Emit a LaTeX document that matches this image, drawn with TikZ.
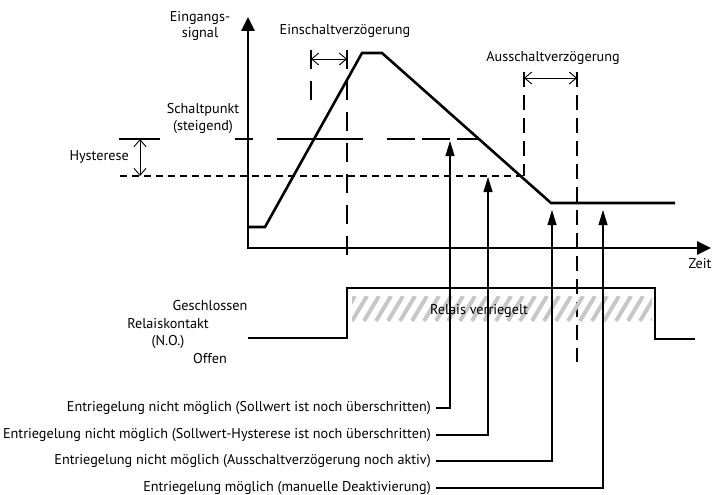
\documentclass[tikz,border=0pt]{standalone}
\usepackage{fontspec}
\setmainfont{PT Sans}
\usetikzlibrary{arrows.meta}

\begin{document}
\begin{tikzpicture}
			[x=1pt,y=-1pt,line cap=butt,
			%Styles
			axes/.style={line width=2.6pt,{Triangle[length=14pt,width=13pt]}-{Triangle[length=14pt,width=13pt]}},
			signal line/.style={line width=2.6pt,line join=miter},
			level line/.style={line width=2.6pt},
			hyst line/.style={line width=2.6pt,dash pattern=on 7pt off 5pt},
			delay line/.style={line width=2.6pt,dash pattern=on 19pt off 12pt},
			off line/.style={line width=2.6pt,dash pattern=on 15pt off 8pt},
			span arrow/.style={line width=0.9pt,{Straight Barb[length=7pt,width=12pt]}-{Straight Barb[length=7pt,width=12pt]}},
			pointer/.style={line width=1.1pt,-{Triangle[length=15pt,width=9pt]},shorten <=5pt},
			hatch/.style={line width=4pt,color=hatchgray},
			label text/.style={font=\fontsize{14.2}{16}\selectfont,inner sep=0pt},
			note text/.style={label text,anchor=east}
			]
			
			%Colors
			\colorlet{hatchgray}{black!22}	%relay locked area
			
			\useasboundingbox (0,0) rectangle (715,495);
			
			%The graphic
			\draw[axes] (248,17) -- (248,248) -- (711,248);
			
			\node[label text,align=center] (signal) at (200,26) {Eingangs-\\signal};
			\node[label text] (zeit) at (700,264) {Zeit};
			\node[label text] (einText) at (345,31) {Einschaltverzögerung};
			\node[label text] (ausText) at (553,58) {Ausschaltverzögerung};
			\node[label text,align=center] (schalt) at (203,119) {Schaltpunkt\\[1pt](steigend)};
			\node[label text,anchor=east] (hyst) at (129,157) {Hysterese};
			
			% levels
			\draw[level line] (119,139) -- (160,139);
			\draw[level line] (235,139) -- (253,139);
			\draw[level line] (277,139) -- (363,139);
			\draw[level line,dash pattern=on 28pt off 7pt] (387,139) -- (478,139);
			\draw[hyst line] (120,176) -- (524,176);
			\draw[span arrow] (140,139) -- (140,176);
			
			% delays
			\draw[delay line] (311,50) -- (311,108);
			\draw[delay line] (347,50) -- (347,260);
			\draw[span arrow] (311,59) -- (347,59);
			\draw[off line] (524,72) -- (524,176);
			\draw[off line] (577,72) -- (577,362);
			\draw[span arrow] (524,78) -- (577,78);
			
			% input signal
			\draw[signal line] (248,227) -- (265,227) -- (362,53) -- (382,53) -- (551,203) -- (675,203);
			
			% relay contact
			\begin{scope}
				\clip (352,296) rectangle (652,321);
				\foreach \x in {340,352,...,652}
					\draw[hatch] (\x,321) -- ++(15,-25);
			\end{scope}
			\draw[signal line] (248,338) -- (347,338) -- (347,288) -- (655,288) -- (655,339) -- (695,339);
			\node[label text] (locked) at (479,311) {Relais verriegelt};
			\node[label text] (closed) at (210,306) {Geschlossen};
			\node[label text,align=center] (contact) at (168,334) {Relaiskontakt\\[1pt](N.O.)};
			\node[label text] (open) at (210,359) {Offen};
			
			% notes
			\coordinate (a1) at (450,141);
			\coordinate (a2) at (488,177);
			\coordinate (a3) at (552,210);
			\coordinate (a4) at (603,210);
			\node[note text] (n1) at (431,408) {Entriegelung nicht möglich (Sollwert ist noch überschritten)};
			\node[note text] (n2) at (431,435) {Entriegelung nicht möglich (Sollwert-Hysterese ist noch überschritten)};
			\node[note text] (n3) at (431,461) {Entriegelung nicht möglich (Ausschaltverzögerung noch aktiv)};
			\node[note text] (n4) at (431,488) {Entriegelung möglich (manuelle Deaktivierung)};
			\draw[pointer] (n1.east) -| (a1);
			\draw[pointer] (n2.east) -| (a2);
			\draw[pointer] (n3.east) -| (a3);
			\draw[pointer] (n4.east) -| (a4);
		\end{tikzpicture}
\end{document}
